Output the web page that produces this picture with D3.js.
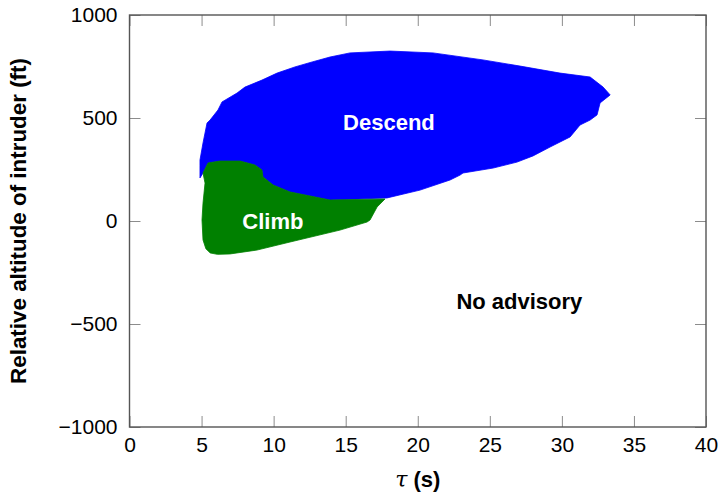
<!DOCTYPE html>
<html>
<head>
<meta charset="utf-8">
<script src="https://cdn.jsdelivr.net/npm/d3@7"></script>
<style>
  html, body { margin: 0; padding: 0; background: #fff; }
  svg { display: block; }
  text { font-family: "Liberation Sans", Arial, Helvetica, sans-serif; }
</style>
</head>
<body>
<svg id="chart" width="719" height="493"></svg>
<script>
// Region boundaries: time-to-closest-approach tau (s) and relative altitude (ft)
const descendTau = [4.89, 4.89, 5.10, 5.38, 5.59, 6.14, 6.42, 7.46, 8.01, 9.19, 10.24, 11.48, 12.67, 13.91, 15.30, 18.08, 21.06, 24.53, 27.10, 29.87, 31.96, 32.86, 33.35, 32.65, 32.44, 31.96, 31.26, 30.57, 29.18, 28.00, 26.89, 25.23, 23.14, 22.94, 22.24, 20.16, 17.87, 13.91, 11.14, 9.96, 9.26, 9.19, 8.70, 7.67, 6.28, 5.45, 5.10];
const descendAlt = [209, 296, 379, 476, 490, 539, 578, 621, 650, 684, 718, 748, 772, 796, 816, 825, 816, 782, 752, 718, 699, 650, 612, 573, 515, 490, 466, 408, 359, 316, 286, 257, 233, 223, 199, 150, 112, 102, 141, 175, 214, 248, 272, 291, 291, 282, 233];

const climbTau = [5.10, 5.45, 6.28, 7.67, 8.70, 9.19, 9.26, 9.96, 11.14, 13.91, 17.73, 17.18, 16.69, 16.48, 14.61, 11.14, 8.85, 6.97, 6.10, 5.60, 5.30, 5.10, 5.03, 5.10, 5.24];
const climbAlt = [233, 282, 291, 291, 272, 248, 214, 175, 141, 102, 107, 68, 5, -5, -44, -102, -141, -160, -162, -155, -135, -92, 5, 87, 184];

const xTicks = [0, 5, 10, 15, 20, 25, 30, 35, 40];
const yTicks = [-1000, -500, 0, 500, 1000];

const regionNames = ["Descend", "Climb", "No advisory"];
const labelTau = [18, 9.95, 27.05];
const labelAlt = [480, 0, -390];

const svg = d3.select("#chart");
const margin = { left: 129.5, right: 13, top: 15, bottom: 66 };
const W = 719, H = 493;

const x = d3.scaleLinear().domain([0, 40]).range([margin.left, W - margin.right]);
const y = d3.scaleLinear().domain([-1000, 1000]).range([H - margin.bottom, margin.top]);

const line = d3.line().x(d => x(d[0])).y(d => y(d[1])).curve(d3.curveLinearClosed);

const descendPts = descendTau.map((t, i) => [t, descendAlt[i]]);
const climbPts = climbTau.map((t, i) => [t, climbAlt[i]]);

svg.append("path").attr("d", line(descendPts)).attr("fill", "#0000ff").attr("stroke", "#0000ff").attr("stroke-width", 0.8).attr("stroke-linejoin", "round");
svg.append("path").attr("d", line(climbPts)).attr("fill", "#008000").attr("stroke", "#008000").attr("stroke-width", 0.8).attr("stroke-linejoin", "round");

// Axes (ticks inward, mirrored)
const tickLen = 11;
const fs = 22;
const tfs = 21;
const gx = svg.append("g").attr("transform", `translate(0,${y(-1000)})`)
  .call(d3.axisBottom(x).tickValues(xTicks).tickSizeInner(-tickLen).tickSizeOuter(0).tickPadding(10).tickFormat(d3.format("d")));
const gxTop = svg.append("g").attr("transform", `translate(0,${y(1000)})`)
  .call(d3.axisTop(x).tickValues(xTicks).tickSizeInner(-tickLen).tickSizeOuter(0).tickFormat(""));
const gy = svg.append("g").attr("transform", `translate(${x(0)},0)`)
  .call(d3.axisLeft(y).tickValues(yTicks).tickSizeInner(-tickLen).tickSizeOuter(0).tickPadding(12)
    .tickFormat(d => d < 0 ? "\u2212" + Math.abs(d) : String(d)));
const gyR = svg.append("g").attr("transform", `translate(${x(40)},0)`)
  .call(d3.axisRight(y).tickValues(yTicks).tickSizeInner(-tickLen).tickSizeOuter(0).tickFormat(""));

[gx, gxTop, gy, gyR].forEach(g => {
  g.select(".domain").remove();
  g.selectAll(".tick line").attr("stroke", "#8c8c8c").attr("stroke-width", 1);
  g.selectAll(".tick text").attr("font-size", tfs).attr("fill", "#000")
    .attr("font-family", "'Liberation Sans', Arial, sans-serif");
});

// frame
svg.append("rect")
  .attr("x", x(0)).attr("y", y(1000))
  .attr("width", x(40) - x(0)).attr("height", y(-1000) - y(1000))
  .attr("fill", "none").attr("stroke", "#555").attr("stroke-width", 1.4);

// Region labels
const labelColors = ["#fff", "#fff", "#000"];
regionNames.forEach((n, i) => {
  svg.append("text")
    .attr("x", x(labelTau[i])).attr("y", y(labelAlt[i]))
    .attr("text-anchor", "middle").attr("dominant-baseline", "central")
    .attr("font-size", fs).attr("font-weight", "bold").attr("fill", labelColors[i])
    .text(n);
});

// Axis titles
const xl = svg.append("text")
  .attr("x", (x(0) + x(40)) / 2).attr("y", 487)
  .attr("text-anchor", "middle").attr("font-size", fs);
xl.append("tspan").attr("font-style", "italic").attr("font-family", "'DejaVu Serif', 'Liberation Serif', serif").text("\u03C4");
xl.append("tspan").attr("font-weight", "bold").text(" (s)");

svg.append("text")
  .attr("transform", `translate(26,${(y(1000) + y(-1000)) / 2}) rotate(-90)`)
  .attr("text-anchor", "middle").attr("font-size", 22.4).attr("font-weight", "bold")
  .text("Relative altitude of intruder (ft)");
</script>
</body>
</html>
